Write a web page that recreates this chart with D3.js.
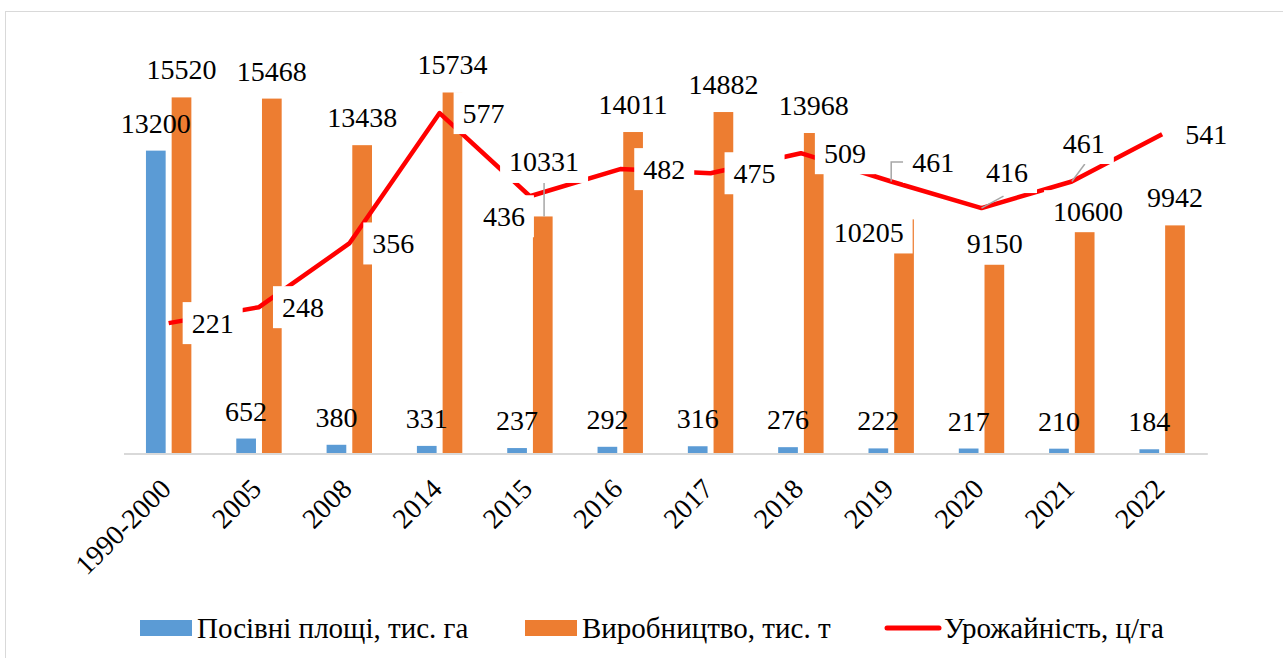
<!DOCTYPE html>
<html>
<head>
<meta charset="utf-8">
<script src="https://cdn.jsdelivr.net/npm/d3@7"></script>
<style>
  body { margin: 0; background: #fff; }
</style>
</head>
<body>
<div id="chart"></div>
<script>
// Data
const categories = ["1990-2000", "2005", "2008", "2014", "2015", "2016", "2017", "2018", "2019", "2020", "2021", "2022"];
const area = [13200, 652, 380, 331, 237, 292, 316, 276, 222, 217, 210, 184];
const production = [15520, 15468, 13438, 15734, 10331, 14011, 14882, 13968, 10205, 9150, 10600, 9942];
const yieldHa = [221, 248, 356, 577, 436, 482, 475, 509, 461, 416, 461, 541];
const seriesNames = ["Посівні площі, тис. га", "Виробництво, тис. т", "Урожайність, ц/га"];

const width = 1283;
const height = 658;
const blue = "#5B9BD5", orange = "#ED7D31", red = "#FF0000";
const fontSize = 28;
const serif = "'Liberation Serif', Tinos, 'Times New Roman', Times, 'DejaVu Serif', serif";

// labels that were dragged by hand in the original (dx, dy in px)
const lineLabelMove = { 4: [-56, 20], 8: [12, -19.5], 9: [-4.5, -36], 10: [-18, -38.5] };
const prodLabelMove = { 4: [1.3, -27], 8: [-35.4, 40.6], 9: [0.5, 27.7], 10: [3.4, 28.4] };

const svg = d3.select("#chart").append("svg")
    .attr("width", width)
    .attr("height", height)
    .style("font-family", serif);

// outer frame
svg.append("rect")
    .attr("x", 5.5).attr("y", 11.5)
    .attr("width", 1300).attr("height", 700)
    .attr("fill", "none").attr("stroke", "#d9d9d9");

const x = d3.scaleBand().domain(categories).range([123.5, 1207.3]);
const x1 = d3.scaleBand().domain(["area", "prod"]).range([-22.7, 22.7]).paddingInner(0.2335);
const y = d3.scaleLinear().domain([0, 18000]).range([453.5, 40.5]);
const y2 = d3.scaleLinear().domain([0, 700]).range([453.5, 40.5]);
const cx = c => x(c) + x.bandwidth() / 2;

// bars
svg.append("g").selectAll("rect")
    .data(categories)
    .join("rect")
    .attr("x", c => cx(c) + x1("area"))
    .attr("width", x1.bandwidth())
    .attr("y", (c, i) => y(area[i]))
    .attr("height", (c, i) => y(0) - y(area[i]))
    .attr("fill", blue);

svg.append("g").selectAll("rect")
    .data(categories)
    .join("rect")
    .attr("x", c => cx(c) + x1("prod"))
    .attr("width", x1.bandwidth())
    .attr("y", (c, i) => y(production[i]))
    .attr("height", (c, i) => y(0) - y(production[i]))
    .attr("fill", orange);

// x axis
const gx = svg.append("g")
    .attr("transform", `translate(0,${y(0)})`)
    .call(d3.axisBottom(x).tickSize(0).tickPadding(0));
gx.attr("font-family", null).attr("font-size", null);
gx.select(".domain").attr("stroke", "#d9d9d9").attr("stroke-width", 2);
gx.selectAll(".tick text")
    .style("font-family", serif)
    .attr("font-size", fontSize)
    .attr("fill", "#000")
    .attr("text-anchor", "end")
    .attr("dy", 0)
    .attr("y", 0)
    .attr("transform", "translate(4,37) rotate(-45)");

// yield line
svg.append("path")
    .datum(yieldHa)
    .attr("fill", "none")
    .attr("stroke", red)
    .attr("stroke-width", 4.5)
    .attr("stroke-linejoin", "round")
    .attr("d", d3.line().x((d, i) => cx(categories[i])).y(d => y2(d)));

// label with white box; anchor "start" => x is box left, "middle" => x is centre
function boxLabel(g, txt, xPos, cyPos, anchor) {
    const grp = g.append("g");
    const r = grp.append("rect").attr("fill", "#fff");
    const t = grp.append("text")
        .style("font-family", serif)
        .attr("font-size", fontSize)
        .attr("y", cyPos + 9.5)
        .text(txt);
    const w = t.node().getComputedTextLength();
    const left = anchor === "middle" ? xPos - w / 2 - 9 : xPos;
    t.attr("x", left + 9);
    r.attr("x", left).attr("y", cyPos - 21).attr("width", w + 18).attr("height", 42);
    return { left: left, right: left + w + 18, top: cyPos - 21, bottom: cyPos + 21 };
}

const leaders = svg.append("g")
    .attr("fill", "none")
    .attr("stroke", "#a6a6a6")
    .attr("stroke-width", 1.5);

// yield labels
const gLine = svg.append("g");
yieldHa.forEach((v, i) => {
    const px = cx(categories[i]), py = y2(v);
    const mv = lineLabelMove[i] || [14, 0];
    const b = boxLabel(gLine, String(v), px + mv[0], py + mv[1], "start");
    if (i === 8) {
        leaders.append("path").attr("d", `M${px},${py} V${b.top + 21} H${b.left}`);
    } else if (i === 9) {
        leaders.append("path").attr("d", `M${px},${py} L${px + 22},${b.bottom + 3}`);
    } else if (i === 10) {
        leaders.append("path").attr("d", `M${px},${py} L${px + 13},${b.bottom}`);
    }
});

// production labels
const gProd = svg.append("g");
production.forEach((v, i) => {
    const bx = cx(categories[i]) + x1("prod") + x1.bandwidth() / 2;
    const top = y(v);
    const mv = prodLabelMove[i] || [0, 0];
    const b = boxLabel(gProd, String(v), bx + mv[0], top - 27.5 + mv[1], "middle");
    if (i === 4) {
        leaders.append("path").attr("d", `M${bx + mv[0]},${b.bottom} V${top}`);
    }
});

// area labels (no box)
svg.append("g").selectAll("text")
    .data(categories)
    .join("text")
    .style("font-family", serif)
    .attr("font-size", fontSize)
    .attr("text-anchor", "middle")
    .attr("x", c => cx(c) + x1("area") + x1.bandwidth() / 2)
    .attr("y", (c, i) => y(area[i]) - 18)
    .text((c, i) => area[i]);

// legend
const legend = svg.append("g").attr("transform", "translate(0,628)");
const legendX = [140, 525, 885];
seriesNames.forEach((name, i) => {
    const gl = legend.append("g").attr("transform", `translate(${legendX[i]},0)`);
    if (i < 2) {
        gl.append("rect").attr("x", 0).attr("y", -8).attr("width", 52).attr("height", 16)
            .attr("fill", i === 0 ? blue : orange);
    } else {
        gl.append("line").attr("x1", 2).attr("x2", 54).attr("y1", 0).attr("y2", 0)
            .attr("stroke", red).attr("stroke-width", 5).attr("stroke-linecap", "round");
    }
    gl.append("text")
        .style("font-family", serif)
        .attr("x", i < 2 ? 57 : 59)
        .attr("y", 10)
        .attr("font-size", 29)
        .text(name);
});
</script>
</body>
</html>
